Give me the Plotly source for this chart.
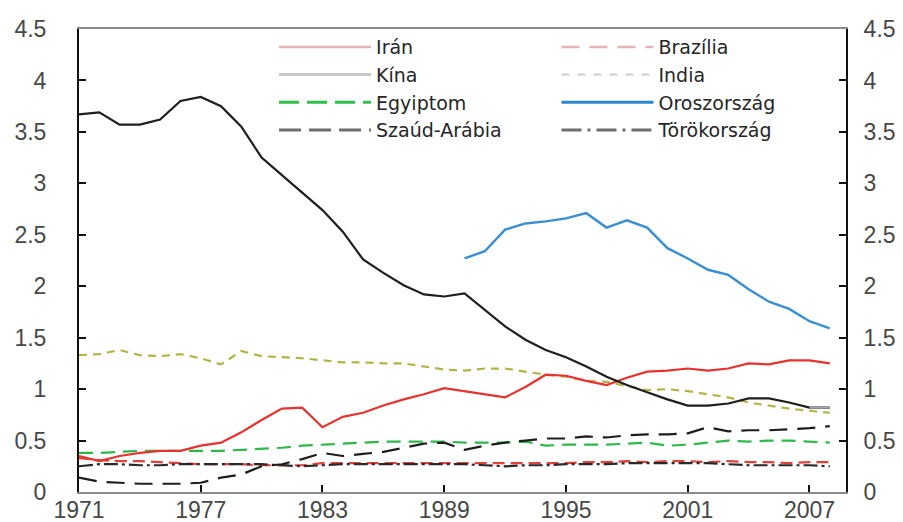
import plotly.graph_objects as go

years = list(range(1971, 2009))

iran = [0.35, 0.30, 0.35, 0.38, 0.40, 0.40, 0.45, 0.48, 0.58, 0.70,
        0.81, 0.82, 0.63, 0.73, 0.77, 0.84, 0.90, 0.95, 1.01, 0.98,
        0.95, 0.92, 1.02, 1.14, 1.13, 1.08, 1.04, 1.11, 1.17, 1.18,
        1.20, 1.18, 1.20, 1.25, 1.24, 1.28, 1.28, 1.25]
brazil = [0.33, 0.31, 0.30, 0.30, 0.29, 0.28, 0.27, 0.27, 0.27, 0.26,
          0.26, 0.26, 0.28, 0.28, 0.28, 0.28, 0.28, 0.28, 0.28, 0.28,
          0.28, 0.28, 0.28, 0.28, 0.28, 0.29, 0.29, 0.30, 0.29, 0.30,
          0.30, 0.29, 0.30, 0.29, 0.29, 0.28, 0.29, 0.29]
kina = [3.67, 3.69, 3.57, 3.57, 3.62, 3.80, 3.84, 3.75, 3.55, 3.25,
        3.08, 2.91, 2.74, 2.53, 2.26, 2.13, 2.01, 1.92, 1.90, 1.93,
        1.77, 1.61, 1.48, 1.38, 1.31, 1.22, 1.12, 1.04, 0.97, 0.90,
        0.84, 0.84, 0.86, 0.91, 0.91, 0.87, 0.82, 0.82]
india = [1.33, 1.34, 1.38, 1.33, 1.32, 1.34, 1.30, 1.24, 1.37, 1.32,
         1.31, 1.30, 1.28, 1.26, 1.26, 1.25, 1.25, 1.22, 1.19, 1.18,
         1.20, 1.20, 1.17, 1.14, 1.12, 1.08, 1.07, 1.03, 0.99, 1.00,
         0.98, 0.95, 0.92, 0.87, 0.84, 0.81, 0.79, 0.77]
egypt = [0.38, 0.38, 0.39, 0.40, 0.40, 0.40, 0.40, 0.40, 0.41, 0.42,
         0.43, 0.45, 0.46, 0.47, 0.48, 0.49, 0.49, 0.49, 0.49, 0.48,
         0.48, 0.48, 0.49, 0.45, 0.46, 0.46, 0.46, 0.47, 0.48, 0.45,
         0.46, 0.48, 0.50, 0.49, 0.50, 0.50, 0.49, 0.48]
russia = [None] * 19 + [2.27, 2.34, 2.55, 2.61, 2.63, 2.66, 2.71, 2.57, 2.64, 2.57,
                        2.37, 2.27, 2.16, 2.11, 1.97, 1.85, 1.78, 1.66, 1.59]
saudi = [0.14, 0.10, 0.09, 0.08, 0.08, 0.08, 0.09, 0.14, 0.17, 0.25,
         0.27, 0.32, 0.38, 0.35, 0.37, 0.39, 0.43, 0.47, 0.48, 0.41,
         0.45, 0.48, 0.50, 0.52, 0.52, 0.54, 0.53, 0.55, 0.56, 0.56,
         0.57, 0.63, 0.59, 0.60, 0.60, 0.61, 0.62, 0.64]
turkey = [0.25, 0.27, 0.27, 0.26, 0.26, 0.27, 0.27, 0.27, 0.27, 0.27,
          0.26, 0.25, 0.26, 0.27, 0.27, 0.27, 0.27, 0.27, 0.27, 0.27,
          0.26, 0.25, 0.26, 0.26, 0.27, 0.27, 0.27, 0.28, 0.28, 0.28,
          0.28, 0.28, 0.27, 0.26, 0.26, 0.26, 0.26, 0.25]

x_ticks = [1971, 1977, 1983, 1989, 1995, 2001, 2007]
y_ticks = [0, 0.5, 1, 1.5, 2, 2.5, 3, 3.5, 4, 4.5]

fig = go.Figure()

# data lines (legend shown by separate legend-only entries)
series = [
    ("India", india, dict(color="#b3b445", width=2.2, dash="8px,6px")),
    ("Egyiptom", egypt, dict(color="#2db84a", width=2.2, dash="14px,8px")),
    ("Brazília", brazil, dict(color="#e2413a", width=2.2, dash="12px,6px")),
    ("Törökország", turkey, dict(color="#2a2a2a", width=2.2, dash="14px,4px,3px,4px")),
    ("Szaúd-Arábia", saudi, dict(color="#1e1e1e", width=2.2, dash="18px,10px")),
    ("Irán", iran, dict(color="#e8322e", width=2.2)),
    ("Kína", kina, dict(color="#1e1e1e", width=2.2)),
    ("Oroszország", russia, dict(color="#3a8fd3", width=2.4)),
]
for name, vals, line in series:
    fig.add_trace(go.Scatter(x=years, y=vals, mode="lines", name=name,
                             line=line, showlegend=False, connectgaps=False))
# last Kína segment drawn lighter, as in the original
fig.add_trace(go.Scatter(x=years[-2:], y=kina[-2:], mode="lines", showlegend=False,
                         line=dict(color="#a0a4b0", width=2)))

# legend entries (two columns)
leg1 = [
    ("Irán", dict(color="#e6b4b4", width=2.5)),
    ("Kína", dict(color="#c8c8c8", width=3)),
    ("Egyiptom", dict(color="#2fbf4a", width=3, dash="20px,8px")),
    ("Szaúd-Arábia", dict(color="#6e6e6e", width=3, dash="22px,8px")),
]
leg2 = [
    ("Brazília", dict(color="#e6b4b4", width=2.5, dash="18px,10px")),
    ("India", dict(color="#d8d8d8", width=2.5, dash="8px,8px")),
    ("Oroszország", dict(color="#2f86cc", width=3)),
    ("Törökország", dict(color="#6e6e6e", width=3, dash="20px,6px,3px,6px")),
]
for name, line in leg1:
    fig.add_trace(go.Scatter(x=[None], y=[None], mode="lines", name=name, line=line,
                             legend="legend", yaxis="y2"))
for name, line in leg2:
    fig.add_trace(go.Scatter(x=[None], y=[None], mode="lines", name=name, line=line,
                             legend="legend2", yaxis="y2"))

tickfont = dict(family="Liberation Sans, Arial, sans-serif", size=23, color="#474747")
legfont = dict(family="DejaVu Sans, Verdana, sans-serif", size=19, color="#262626")

fig.update_layout(
    width=903, height=522,
    margin=dict(l=71, r=65, t=21, b=38),
    paper_bgcolor="white", plot_bgcolor="white",
    xaxis=dict(range=[1971, 2008.8], tickvals=x_ticks, ticks="inside", ticklen=7,
               tickwidth=2, tickcolor="#111", showline=True, linecolor="#8a8a8a",
               linewidth=2, mirror=True, showgrid=False, zeroline=False,
               tickfont=tickfont, ticklabelstandoff=-4, automargin=False),
    yaxis=dict(range=[0, 4.5], tickvals=y_ticks, ticks="inside", ticklen=7,
               tickwidth=2, tickcolor="#111", showline=True, linecolor="#111",
               linewidth=2, showgrid=False, zeroline=False, tickfont=tickfont,
               ticklabelstandoff=26, automargin=False),
    yaxis2=dict(range=[0, 4.5], tickvals=y_ticks, ticks="inside", ticklen=7,
                tickwidth=2, tickcolor="#111", showline=True, linecolor="#111",
                linewidth=2, showgrid=False, zeroline=False, tickfont=tickfont,
                overlaying="y", side="right", ticklabelstandoff=11, automargin=False),
    legend=dict(x=0.2543, y=1.002, xanchor="left", yanchor="top", font=legfont,
                itemwidth=92, bgcolor="rgba(0,0,0,0)", tracegroupgap=0),
    legend2=dict(x=0.6225, y=1.002, xanchor="left", yanchor="top", font=legfont,
                 itemwidth=92, bgcolor="rgba(0,0,0,0)", tracegroupgap=0),
)

fig.write_html("out.html")
